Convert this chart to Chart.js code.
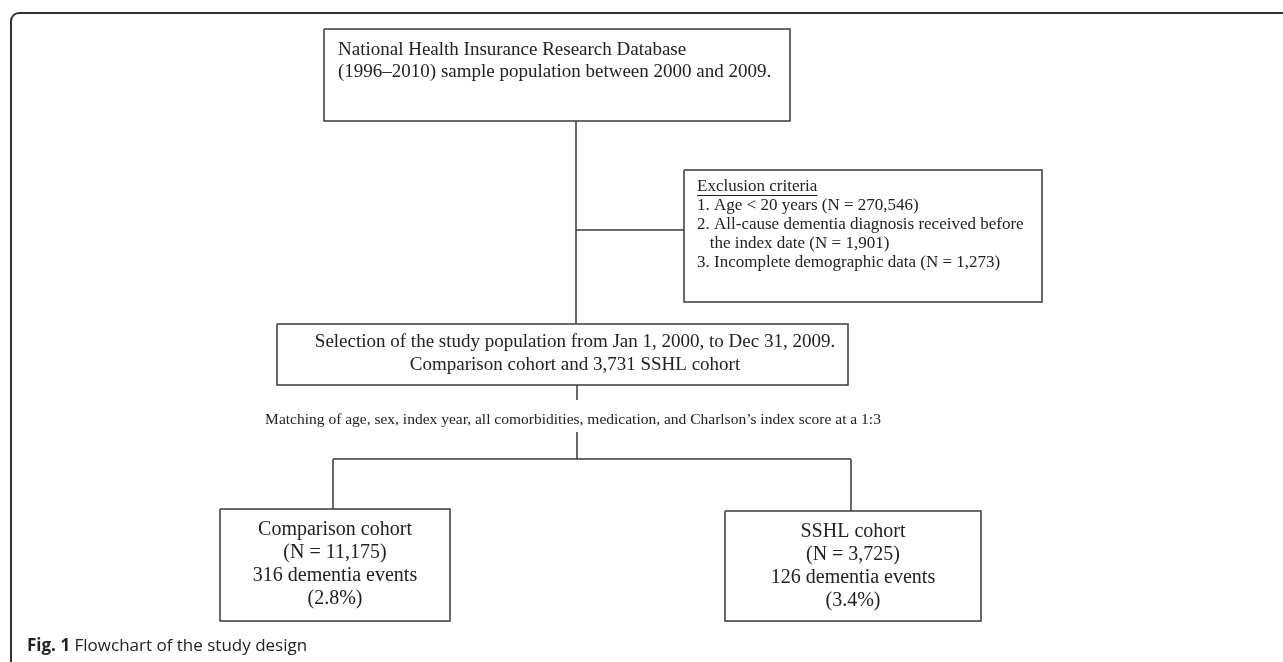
<!DOCTYPE html>
<html>
<head>
<meta charset="utf-8">
<script src="https://cdn.jsdelivr.net/npm/chart.js@4.4.0/dist/chart.umd.min.js"></script>
<style>
  html, body { margin: 0; padding: 0; background: #fff; }
  #wrap { width: 1283px; height: 662px; }
</style>
</head>
<body>
<div id="wrap"><canvas id="chart" width="1283" height="662"></canvas></div>
<script>
// --- flowchart content ---
const sourceLines = [
    'National Health Insurance Research Database',
    '(1996–2010) sample population between 2000 and 2009.'
];
const exclusionTitle = 'Exclusion criteria';
const exclusionLabels = ['1. Age < 20 years', '2. All-cause dementia diagnosis received before', '3. Incomplete demographic data'];
const exclusionCounts = [270546, 1901, 1273];
const selectionLines = [
    'Selection of the study population from Jan 1, 2000, to Dec 31, 2009.',
    'Comparison cohort and 3,731 SSHL cohort'
];
const matchingNote = 'Matching of age, sex, index year, all comorbidities, medication, and Charlson’s index score at a 1:3';
const cohortNames = ['Comparison cohort', 'SSHL cohort'];
const cohortN = [11175, 3725];
const dementiaEvents = [316, 126];
const dementiaPct = [2.8, 3.4];
const captionBold = 'Fig. 1';
const captionText = ' Flowchart of the study design';

// --- layout (page units, mapped through the chart scales) ---
const layout = {
    source:    { x0: 324, y0: 29,  x1: 790,  y1: 121 },
    exclusion: { x0: 684, y0: 170, x1: 1042, y1: 302 },
    selection: { x0: 277, y0: 324, x1: 848,  y1: 385 },
    cohorts: [
        { x0: 220, y0: 509, x1: 450, y1: 621 },
        { x0: 725, y0: 511, x1: 981, y1: 621 }
    ],
    trunkX: 576,
    branchY: 230,
    matchY: 420,
    splitY: 459,
    cohortX: [333, 851]
};

const fmt = n => n.toLocaleString('en-US');
const serif = '"Liberation Serif", "Times New Roman", serif';
const ink = '#222';
const stroke = '#3a3a3a';

function boxPath(b) {
    return [
        { x: b.x0, y: b.y0 }, { x: b.x1, y: b.y0 },
        { x: b.x1, y: b.y1 }, { x: b.x0, y: b.y1 }, { x: b.x0, y: b.y0 }
    ];
}

function lineDs(points, width) {
    return {
        data: points,
        showLine: true,
        borderColor: stroke,
        borderWidth: width || 1.5,
        pointRadius: 0,
        tension: 0
    };
}

const L = layout;
// each connector is a two-point segment
const connectors = [
    [[L.trunkX, L.source.y1], [L.trunkX, L.selection.y0]],
    [[L.trunkX, L.branchY], [L.exclusion.x0, L.branchY]],
    [[L.trunkX + 1, L.selection.y1], [L.trunkX + 1, 400]],
    [[L.trunkX + 1, 432], [L.trunkX + 1, L.splitY]],
    [[L.cohortX[0], L.splitY], [L.cohortX[1], L.splitY]],
    [[L.cohortX[0], L.splitY], [L.cohortX[0], L.cohorts[0].y0]],
    [[L.cohortX[1], L.splitY], [L.cohortX[1], L.cohorts[1].y0]]
];

const textPlugin = {
    id: 'flowText',
    beforeDatasetsDraw(chart) {
        const ctx = chart.ctx;
        const xs = chart.scales.x, ys = chart.scales.y;
        // outer panel frame with rounded top-left corner
        const x0 = xs.getPixelForValue(11), y0 = ys.getPixelForValue(13), r = 8;
        ctx.save();
        ctx.strokeStyle = '#333';
        ctx.lineWidth = 2;
        ctx.beginPath();
        ctx.moveTo(x0, ys.getPixelForValue(662));
        ctx.lineTo(x0, y0 + r);
        ctx.arcTo(x0, y0, x0 + r, y0, r);
        ctx.lineTo(xs.getPixelForValue(1283), y0);
        ctx.stroke();
        ctx.restore();
    },
    afterDatasetsDraw(chart) {
        const ctx = chart.ctx;
        const px = v => chart.scales.x.getPixelForValue(v);
        const py = v => chart.scales.y.getPixelForValue(v);
        ctx.save();
        ctx.fillStyle = ink;
        ctx.textBaseline = 'middle';

        // source box, left aligned
        ctx.font = '19px ' + serif;
        ctx.textAlign = 'left';
        sourceLines.forEach((t, i) => ctx.fillText(t, px(338), py(50 + i * 22)));

        // exclusion box
        ctx.font = '17px ' + serif;
        const ex = px(L.exclusion.x0 + 13);
        const y = 187;
        ctx.fillText(exclusionTitle, ex, py(y));
        const tw = ctx.measureText(exclusionTitle).width;
        ctx.fillRect(ex, py(y) + 8, tw, 1);
        const exLines = [
            `${exclusionLabels[0]} (N = ${fmt(exclusionCounts[0])})`,
            exclusionLabels[1],
            `   the index date (N = ${fmt(exclusionCounts[1])})`,
            `${exclusionLabels[2]} (N = ${fmt(exclusionCounts[2])})`
        ];
        exLines.forEach((t, i) => ctx.fillText(t, ex, py(y + 19 * (i + 1))));

        // selection box, centered
        ctx.textAlign = 'center';
        ctx.font = '19px ' + serif;
        selectionLines.forEach((t, i) => ctx.fillText(t, px(575), py(342 + i * 23)));

        // matching note
        ctx.font = '15.5px ' + serif;
        ctx.fillText(matchingNote, px(573), py(L.matchY));

        // cohort boxes
        ctx.font = '20px ' + serif;
        L.cohorts.forEach((b, k) => {
            const cx = px((b.x0 + b.x1) / 2);
            const lines = [
                cohortNames[k],
                `(N = ${fmt(cohortN[k])})`,
                `${dementiaEvents[k]} dementia events`,
                `(${dementiaPct[k].toFixed(1)}%)`
            ];
            lines.forEach((t, i) => ctx.fillText(t, cx, py(b.y0 + 21 + i * 23)));
        });

        // caption
        ctx.textAlign = 'left';
        ctx.font = 'bold 17px "Open Sans", "Noto Sans", sans-serif';
        ctx.fillText(captionBold, px(27), py(646));
        const bw = ctx.measureText(captionBold).width;
        ctx.font = '17px "Open Sans", "Noto Sans", sans-serif';
        ctx.fillText(captionText, px(27) + bw, py(646));
        ctx.restore();
    }
};

const datasets = [
    lineDs(boxPath(L.source)),
    lineDs(boxPath(L.exclusion)),
    lineDs(boxPath(L.selection)),
    lineDs(boxPath(L.cohorts[0])),
    lineDs(boxPath(L.cohorts[1]))
];
connectors.forEach(seg => datasets.push(lineDs(seg.map(p => ({ x: p[0], y: p[1] })))));

const chart = new Chart(document.getElementById('chart'), {
    type: 'scatter',
    data: { datasets },
    options: {
        responsive: false,
        animation: false,
        layout: { padding: 0 },
        scales: {
            x: { type: 'linear', min: 0, max: 1283, display: false },
            y: { type: 'linear', min: 0, max: 662, reverse: true, display: false }
        },
        plugins: {
            legend: { display: false },
            tooltip: { enabled: false }
        }
    },
    plugins: [textPlugin]
});
</script>
</body>
</html>
